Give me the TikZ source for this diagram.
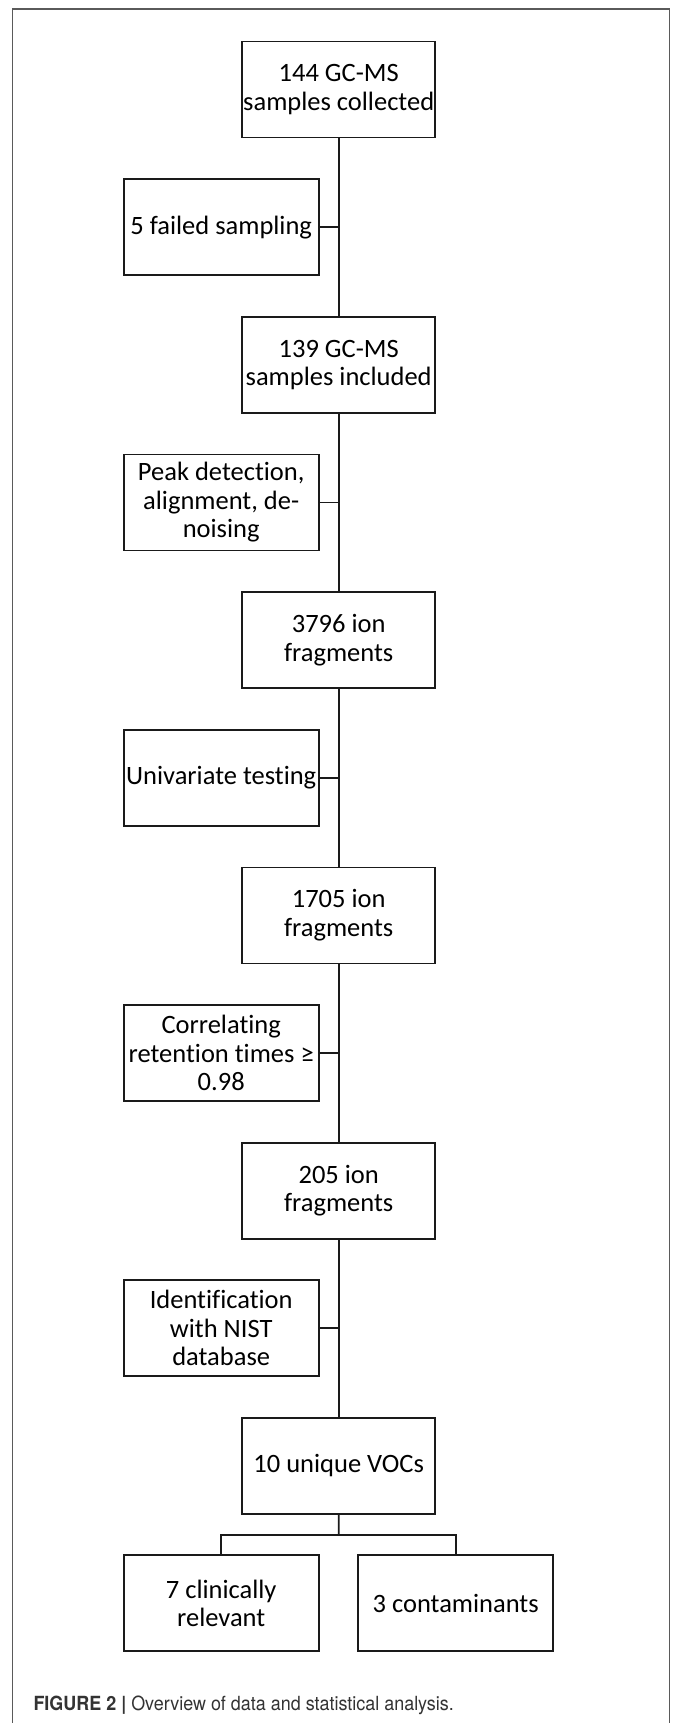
\documentclass[tikz,border=0pt]{standalone}
\usepackage{fontspec}
\setmainfont{Carlito}[Ligatures=NoCommon]
\newfontfamily\capfont[FakeStretch=0.92]{TeX Gyre Heros}
\usetikzlibrary{positioning,calc}
\definecolor{lineblack}{HTML}{1A1A1A}
\definecolor{framegray}{HTML}{5A5A5A}
\definecolor{captiongray}{HTML}{333333}

\begin{document}
\begin{tikzpicture}[
    x=1pt,y=-1pt,
    node distance=177.5pt,
    font=\fontsize{26.5}{28.5}\selectfont,
    mainbox/.style={draw=lineblack,line width=1.8pt,minimum width=193pt,minimum height=96pt,inner sep=0pt,align=center},
    sidebox/.style={mainbox,minimum width=195pt},
    link/.style={draw=lineblack,line width=1.8pt}
  ]
    \useasboundingbox (0,0) rectangle (672,1723);
    \draw[framegray,line width=1.3pt] (12.7,1723) -- (12.7,9) -- (669.7,9) -- (669.7,1723);
    % main chain
    \node[mainbox] (collected) at (338.7,89.5) {144 GC-MS\\samples collected};
    \node[mainbox,below=of collected] (included) {139 GC-MS\\samples included};
    \node[mainbox,below=of included] (ions3796) {3796 ion\\fragments};
    \node[mainbox,below=of ions3796] (ions1705) {1705 ion\\fragments};
    \node[mainbox,below=of ions1705] (ions205) {205 ion\\fragments};
    \node[mainbox,below=of ions205] (vocs) {10 unique VOCs};
    % steps on the left
    \node[sidebox,xshift=-117.5pt] (failed) at ($(collected.south)!0.5!(included.north)$) {5 failed sampling};
    \node[sidebox,xshift=-117.5pt] (peaks) at ($(included.south)!0.5!(ions3796.north)$) {Peak detection,\\alignment, de-\\noising};
    \node[sidebox,xshift=-117.5pt] (univariate) at ($(ions3796.south)!0.5!(ions1705.north)$) {Univariate testing};
    \node[sidebox,xshift=-117.5pt] (correlating) at ($(ions1705.south)!0.5!(ions205.north)$) {Correlating\\retention times ≥\\0.98};
    \node[sidebox,xshift=-117.5pt] (nist) at ($(ions205.south)!0.5!(vocs.north)$) {Identification\\with NIST\\database};
    % split
    \node[sidebox,below=39.5pt of vocs,xshift=-117.5pt] (relevant) {7 clinically\\relevant};
    \node[sidebox,below=39.5pt of vocs,xshift=117pt] (contam) {3 contaminants};
    \coordinate (split) at ($(vocs.south)!0.5!(relevant.north -| vocs.south)$);
    \draw[link] (collected) -- (included);
    \draw[link] (included) -- (ions3796);
    \draw[link] (ions3796) -- (ions1705);
    \draw[link] (ions1705) -- (ions205);
    \draw[link] (ions205) -- (vocs);
    \draw[link] (failed.east) -- (failed.east -| collected.south);
    \draw[link] (peaks.east) -- (peaks.east -| collected.south);
    \draw[link] (univariate.east) -- (univariate.east -| collected.south);
    \draw[link] (correlating.east) -- (correlating.east -| collected.south);
    \draw[link] (nist.east) -- (nist.east -| collected.south);
    \draw[link] (vocs.south) -- (split);
    \draw[link] (relevant.north) |- (split) -| (contam.north);
    % caption
    \node[anchor=base west,text=captiongray,font={\capfont\fontsize{19.5}{22}\selectfont}] (caption) at (30,1710) {{\bfseries FIGURE 2 |} Overview of data and statistical analysis.};
  \end{tikzpicture}
\end{document}
